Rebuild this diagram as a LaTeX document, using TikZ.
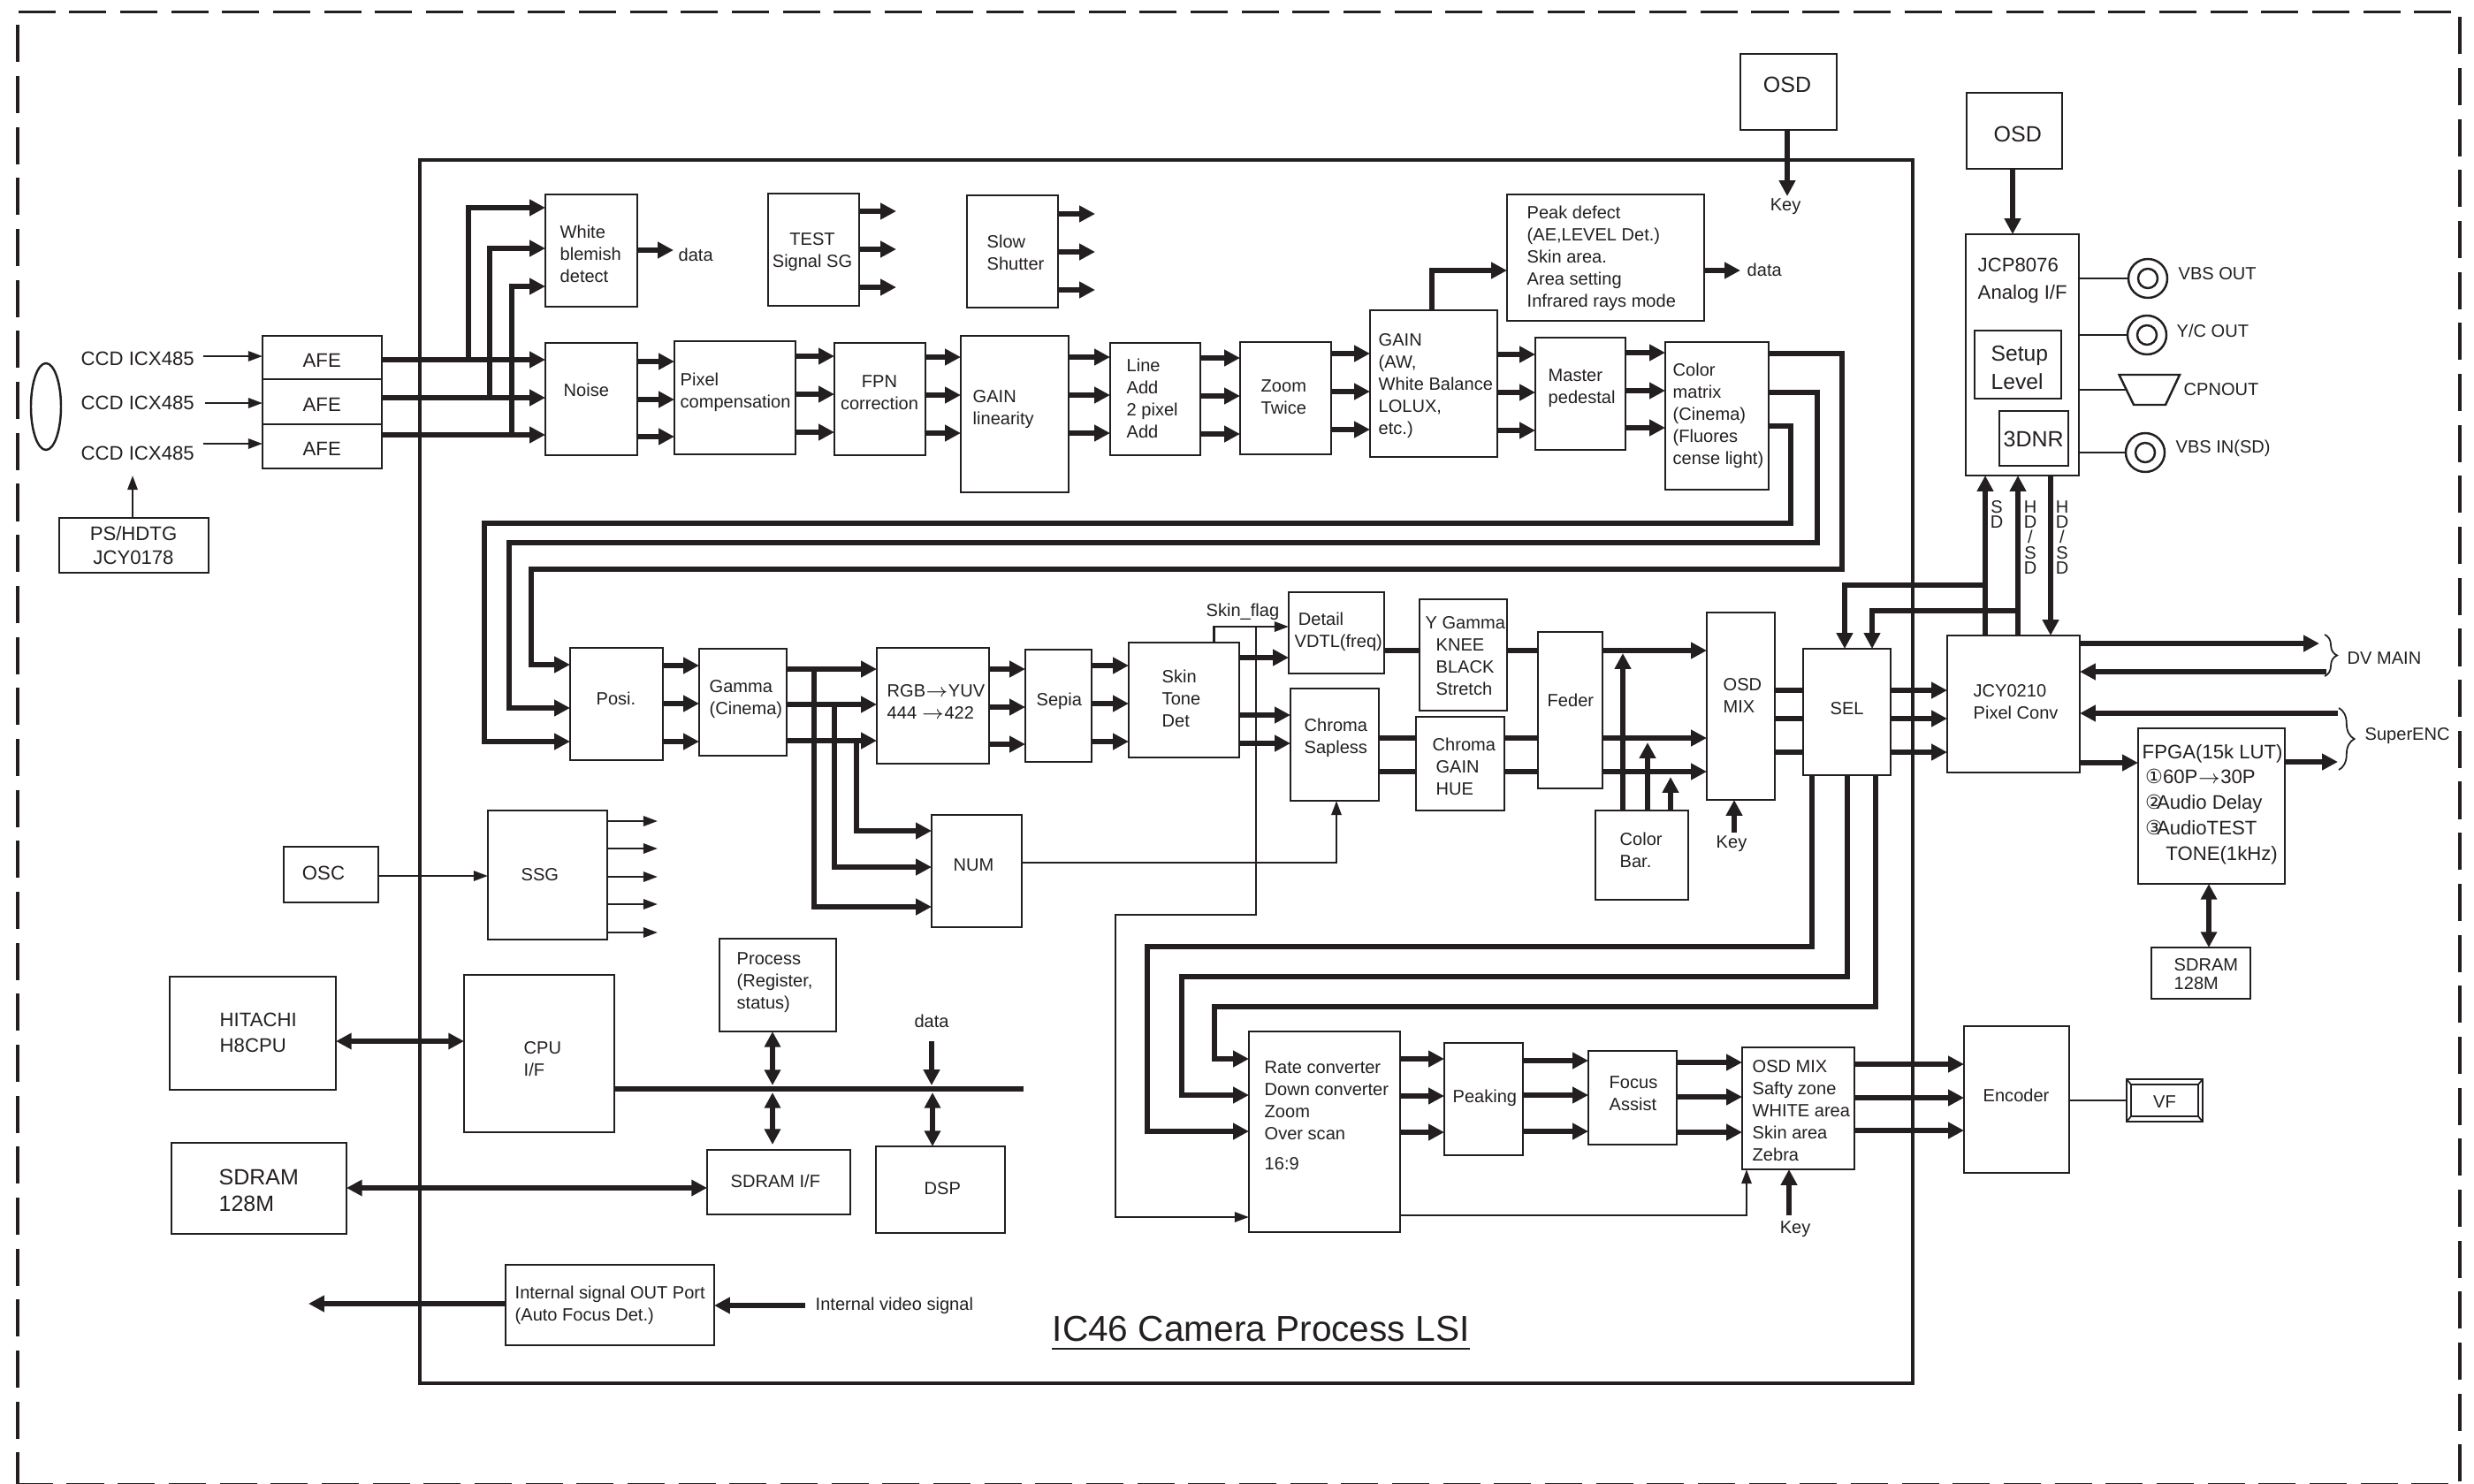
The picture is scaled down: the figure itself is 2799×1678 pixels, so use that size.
\documentclass[tikz,border=0pt]{standalone}
\usepackage{fontspec}
\setmainfont{Liberation Sans}
\newfontfamily\circfont{DejaVu Sans}
\usetikzlibrary{shapes.geometric,arrows.meta,decorations.pathreplacing,calc}
\definecolor{ink}{HTML}{231F20}

\begin{document}
\begin{tikzpicture}[
    x=0.01cm, y=-0.01cm, color=ink,
    wh/.style 2 args={minimum width=#1*0.01cm, minimum height=#2*0.01cm},
    box/.style={rectangle, draw, line width=0.7pt, anchor=north west, inner sep=0pt, outer sep=0pt},
    frame/.style={rectangle, draw, line width=1.1pt, dash pattern=on 11.95pt off 4.45pt, dash phase=0.6pt, anchor=north west, inner sep=0pt},
    lbl/.style={anchor=west, align=left, inner sep=0pt, font=\fontsize{5.7}{7.1}\selectfont},
    lblm/.style={lbl, font=\fontsize{6.3}{7.7}\selectfont},
    lblb/.style={lbl, font=\fontsize{7.1}{8.6}\selectfont},
    stack/.style={lbl, anchor=center, align=center, font=\fontsize{5.7}{4.95}\selectfont},
    bus/.style={-{Triangle[length=5.1pt,width=5.1pt]}, line width=1.75pt},
    dbus/.style={{Triangle[length=5pt,width=5pt]}-{Triangle[length=5pt,width=5pt]}, line width=1.5pt},
    trunk/.style={line width=1.75pt},
    wire/.style={-{Triangle[length=4.6pt,width=3.2pt]}, line width=0.7pt},
    jack/.style={circle, draw, line width=0.7pt, inner sep=0pt, minimum size=#1*0.01cm},
]
\useasboundingbox (0,0) rectangle (2799,1678);

% ---------- frames ----------
\node[frame, wh={2763}{1666}] (camera) at (18,11.5) {};
\node[box, line width=1pt, wh={1689}{1384}] (lsi) at (475,181) {};
\node[lbl, font=\fontsize{11.55}{13}\selectfont] (lsiT) at (1190,1503) {IC46 Camera Process LSI};
\draw[line width=0.8pt] (lsiT.west|-0,1526) -- (1663,1526);

% ---------- sensors ----------
\node[ellipse, draw, line width=0.7pt, minimum width=0.34cm, minimum height=0.98cm, inner sep=0pt] (lens) at (52,460) {};
\node[lblm] (ccdA) at (91,406) {CCD ICX485};
\node[lblm] (ccdB) at (91,456) {CCD ICX485};
\node[lblm] (ccdC) at (91,513) {CCD ICX485};
\node[box, wh={135}{49}] (afeA) at (297,380) {};
\node[box, wh={135}{51}] (afeB) at (297,429) {};
\node[box, wh={135}{50}] (afeC) at (297,480) {};
\node[lblm] (afeAT) at (342,408) {AFE};
\node[lblm] (afeBT) at (342,458) {AFE};
\node[lblm] (afeCT) at (342,508) {AFE};
\draw[wire] (230,403) -- (afeA.west|-0,403);
\draw[wire] (232,456) -- (afeB.west|-0,456);
\draw[wire] (230,502) -- (afeC.west|-0,502);
\node[box, wh={169}{62}] (ps) at (67,586) {};
\node[lblm, anchor=center, align=center] (psT) at (151,617) {PS/HDTG\\JCY0178};
\coordinate (ccdIn) at (150,538);
\draw[wire] (ps.north-|ccdIn) -- (ccdIn);

% ---------- first row ----------
\node[box, wh={104}{127}] (wbd) at (617,220) {};
\node[lbl] (wbdT) at (633,287) {White\\blemish\\detect};
\node[box, wh={103}{127}] (testsg) at (869,219) {};
\node[lbl, anchor=center, align=center] (testsgT) at (919,285) {TEST\\Signal SG};
\node[box, wh={103}{127}] (slow) at (1094,221) {};
\node[lbl] (slowT) at (1116,286) {Slow\\Shutter};
\node[box, wh={104}{127}] (noise) at (617,388) {};
\node[lbl] (noiseT) at (637,441) {Noise};
\node[box, wh={137}{128}] (pixc) at (763,386) {};
\node[lbl] (pixcT) at (769,444) {Pixel\\compensation};
\node[box, wh={103}{127}] (fpn) at (944,388) {};
\node[lbl, anchor=center, align=center] (fpnT) at (995,444) {FPN\\correction};
\node[box, wh={122}{177}] (glin) at (1087,380) {};
\node[lbl] (glinT) at (1100,463) {GAIN\\linearity};
\node[box, wh={102}{127}] (addl) at (1256,388) {};
\node[lbl] (addlT) at (1274,451) {Line\\Add\\2 pixel\\Add};
\node[box, wh={103}{127}] (zoomx) at (1403,387) {};
\node[lbl] (zoomxT) at (1426,449) {Zoom\\Twice};
\node[box, wh={144}{166}] (gain) at (1550,351) {};
\node[lbl] (gainT) at (1559,437) {GAIN\\(AW,\\White Balance\\LOLUX,\\etc.)};
\node[box, wh={102}{127}] (mped) at (1737,382) {};
\node[lbl] (mpedT) at (1751,439) {Master\\pedestal};
\node[box, wh={117}{167}] (cmx) at (1884,387) {};
\node[lbl] (cmxT) at (1892,470) {Color\\matrix\\(Cinema)\\(Fluores\\cense light)};
\node[box, wh={223}{143}] (peak) at (1705,220) {};
\node[lbl] (peakT) at (1727,292) {Peak defect\\(AE,LEVEL Det.)\\Skin area.\\Area setting\\Infrared rays mode};

\draw[bus] (afeA.east|-0,407) -- (noise.west|-0,407);
\draw[bus] (afeB.east|-0,450) -- (noise.west|-0,450);
\draw[bus] (afeC.east|-0,492) -- (noise.west|-0,492);
\draw[bus] (530,407) |- (wbd.west|-0,235);
\draw[bus] (554,450) |- (wbd.west|-0,281);
\draw[bus] (579,492) |- (wbd.west|-0,324);
\coordinate (wbdOut) at (762,283);
\node[lbl] (wbdData) at (767,288) {data};
\draw[bus] (wbd.east|-wbdOut) -- (wbdOut);
\foreach \y in {239,282,325} { \draw[bus] (testsg.east|-0,\y) -- ++(42,0); }
\foreach \y in {242,285,328} { \draw[bus] (slow.east|-0,\y) -- ++(42,0); }
\foreach \y in {409,452,494} { \draw[bus] (noise.east|-0,\y) -- (pixc.west|-0,\y); }
\foreach \y in {403,446,489} { \draw[bus] (pixc.east|-0,\y) -- (fpn.west|-0,\y); }
\foreach \y in {404,447,490} { \draw[bus] (fpn.east|-0,\y) -- (glin.west|-0,\y); }
\foreach \y in {404,447,490} { \draw[bus] (glin.east|-0,\y) -- (addl.west|-0,\y); }
\foreach \y in {405,448,491} { \draw[bus] (addl.east|-0,\y) -- (zoomx.west|-0,\y); }
\foreach \y in {400,443,486} { \draw[bus] (zoomx.east|-0,\y) -- (gain.west|-0,\y); }
\foreach \y in {401,444,487} { \draw[bus] (gain.east|-0,\y) -- (mped.west|-0,\y); }
\foreach \y in {399,442,484} { \draw[bus] (mped.east|-0,\y) -- (cmx.west|-0,\y); }
\draw[bus] (gain.north-|1620,0) |- (peak.west|-0,306);
\coordinate (peakOut) at (1969,306);
\node[lbl] (peakData) at (1976,305) {data};
\draw[bus] (peak.east|-peakOut) -- (peakOut);

% ---------- second row ----------
\node[box, wh={105}{127}] (posi) at (645,733) {};
\node[lbl] (posiT) at (674,790) {Posi.};
\node[box, wh={99}{121}] (gamma) at (791,734) {};
\node[lbl] (gammaT) at (802,791) {Gamma\\(Cinema)};
\node[box, wh={127}{131}] (rgb) at (992,733) {};
\node[lbl] (rgbT) at (1003,794) {RGB$\rightarrow$YUV\\444 $\rightarrow$422};
\node[box, wh={75}{127}] (sepia) at (1160,735) {};
\node[lbl] (sepiaT) at (1172,793) {Sepia};
\node[box, wh={125}{130}] (skin) at (1277,727) {};
\node[lbl] (skinT) at (1314,790) {Skin\\Tone\\Det};
\node[box, wh={108}{92}] (dtl) at (1458,670) {};
\node[lbl] (dtlT) at (1464,715) {\hspace*{1.2pt}Detail\\VDTL(freq)};
\node[box, wh={100}{127}] (chs) at (1460,779) {};
\node[lbl] (chsT) at (1475,835) {Chroma\\Sapless};
\node[box, wh={99}{126}] (ygam) at (1606,678) {};
\node[lbl] (ygamT) at (1612,742) {Y Gamma\\\hspace*{3.4pt}KNEE\\\hspace*{3.4pt}BLACK\\\hspace*{3.4pt}Stretch};
\node[box, wh={100}{106}] (chg) at (1602,811) {};
\node[lbl] (chgT) at (1620,867) {Chroma\\\hspace*{1.1pt}GAIN\\\hspace*{1.1pt}HUE};
\node[box, wh={73}{177}] (feder) at (1740,715) {};
\node[lbl] (federT) at (1750,792) {Feder};
\node[box, wh={77}{212}] (omix) at (1931,693) {};
\node[lbl] (omixT) at (1949,787) {OSD\\MIX};
\node[box, wh={105}{101}] (cbar) at (1805,917) {};
\node[lbl] (cbarT) at (1832,962) {Color\\Bar.};
\node[box, wh={99}{143}] (sel) at (2040,734) {};
\node[lbl] (selT) at (2070,802) {SEL};

% three lines run down from the colour matrix
\draw[bus] (cmx.east|-0,400) -| (2084,644) -| (601,752) -- (posi.west|-0,752);
\draw[bus] (cmx.east|-0,444) -| (2056,614) -| (576,801) -- (posi.west|-0,801);
\draw[bus] (cmx.east|-0,482) -| (2026,592) -| (548,839) -- (posi.west|-0,839);
\foreach \y in {753,796,839} { \draw[bus] (posi.east|-0,\y) -- (gamma.west|-0,\y); }
\foreach \y in {757,797,838} { \draw[bus] (gamma.east|-0,\y) -- (rgb.west|-0,\y); }
\foreach \y in {757,800,842} { \draw[bus] (rgb.east|-0,\y) -- (sepia.west|-0,\y); }
\foreach \y in {753,796,839} { \draw[bus] (sepia.east|-0,\y) -- (skin.west|-0,\y); }
\draw[bus] (skin.east|-0,744) -- (dtl.west|-0,744);
\draw[bus] (skin.east|-0,809) -- (chs.west|-0,809);
\draw[bus] (skin.east|-0,841) -- (chs.west|-0,841);
\draw[trunk] (dtl.east|-0,736) -- (ygam.west|-0,736);
\draw[trunk] (ygam.east|-0,736) -- (feder.west|-0,736);
\draw[bus] (feder.east|-0,736) -- (omix.west|-0,736);
\foreach \y in {835,873} {
  \draw[trunk] (chs.east|-0,\y) -- (chg.west|-0,\y);
  \draw[trunk] (chg.east|-0,\y) -- (feder.west|-0,\y);
  \draw[bus] (feder.east|-0,\y) -- (omix.west|-0,\y);
}
\foreach \x/\y in {1836/739,1864/840,1890/879} { \draw[bus, line width=1.6pt] (cbar.north-|\x,0) -- (\x,\y); }
\foreach \y in {781,813,851} { \draw[trunk] (omix.east|-0,\y) -- (sel.west|-0,\y); }
\coordinate (keyB) at (1962,942);
\node[lbl, anchor=center] (keyBT) at (1959,955) {Key};
\draw[bus] (keyB) -- (omix.south-|keyB);

% ---------- num and skin flag ----------
\node[box, wh={102}{127}] (num) at (1054,922) {};
\node[lbl] (numT) at (1078,979) {NUM};
\draw[bus] (921,757) |- (num.west|-0,1026);
\draw[bus] (944,797) |- (num.west|-0,981);
\draw[bus] (969,838) |- (num.west|-0,940);
\draw[wire] (num.east|-0,976) -| (chs.south-|1512,0);
\node[lbl] (skinF) at (1364,692) {Skin\_flag};
\draw[wire] (skin.north-|1373.5,0) |- (dtl.west|-0,709);

% ---------- ssg and bus ----------
\node[box, wh={135}{146}] (ssg) at (552,917) {};
\node[lbl] (ssgT) at (589,990) {SSG};
\foreach \y in {929,960,992,1023,1055} { \draw[wire] (ssg.east|-0,\y) -- ++(57,0); }
\node[box, wh={107}{63}] (osc) at (321,958) {};
\node[lblm, anchor=center] (oscT) at (366,988) {OSC};
\draw[wire] (osc.east|-0,991) -- (ssg.west|-0,991);
\node[box, wh={188}{128}] (hit) at (192,1105) {};
\node[lblm, font=\fontsize{6.3}{8.2}\selectfont] (hitT) at (248,1168) {HITACHI\\H8CPU};
\node[box, wh={170}{178}] (cpu) at (525,1103) {};
\node[lbl] (cpuT) at (592,1198) {CPU\\I/F};
\node[box, wh={132}{105}] (proc) at (814,1062) {};
\node[lbl] (procT) at (833,1112) {Process\\(Register,\\status)};
\node[box, wh={162}{73}] (sdif) at (800,1301) {};
\node[lbl] (sdifT) at (826,1336) {SDRAM I/F};
\node[box, wh={146}{98}] (dsp) at (991,1297) {};
\node[lbl] (dspT) at (1045,1345) {DSP};
\node[box, wh={198}{103}] (sdram) at (194,1293) {};
\node[lblb] (sdramT) at (247,1347) {SDRAM\\128M};
\coordinate (busEnd) at (1158,1232);
\coordinate (busTap) at (874,1232);
\coordinate (busTapB) at (1054,1232);
\draw[trunk] (cpu.east|-busEnd) -- (busEnd);
\draw[dbus] (hit.east|-0,1178) -- (cpu.west|-0,1178);
\draw[dbus] (proc.south-|busTap) -- ($(busTap)+(0,-4)$);
\draw[dbus] ($(busTap)+(0,4)$) -- (874,1295);
\coordinate (dataIn) at (1054,1178);
\node[lbl, anchor=center] (dataT) at (1054,1155) {data};
\draw[bus] (dataIn) -- ($(busTapB)+(0,-4)$);
\draw[dbus] ($(busTapB)+(1,4)$) -- (dsp.north-|1055,0);
\draw[dbus] (sdram.east|-0,1344) -- (sdif.west|-0,1344);
\node[box, wh={236}{91}] (intp) at (572,1431) {};
\node[lbl] (intpT) at (582,1477) {Internal signal OUT Port\\(Auto Focus Det.)};
\coordinate (intOut) at (349,1475);
\coordinate (intIn) at (911,1477);
\node[lbl] (intInT) at (922,1477) {Internal video signal};
\draw[bus] (intp.west|-intOut) -- (intOut);
\draw[bus] (intIn) -- (intp.east|-intIn);

% ---------- third row ----------
\node[box, wh={171}{227}] (rate) at (1413,1167) {};
\node[lbl] (rateT) at (1430,1262) {Rate converter\\Down converter\\Zoom\\Over scan\\[2.5pt]16:9};
\node[box, wh={89}{127}] (peakg) at (1634,1180) {};
\node[lbl] (peakgT) at (1643,1242) {Peaking};
\node[box, wh={100}{106}] (focus) at (1797,1189) {};
\node[lbl] (focusT) at (1820,1237) {Focus\\Assist};
\node[box, wh={127}{138}] (omixb) at (1971,1185) {};
\node[lbl] (omixbT) at (1982,1257) {OSD MIX\\Safty zone\\WHITE area\\Skin area\\Zebra};
\node[box, wh={119}{166}] (enc) at (2222,1161) {};
\node[lbl] (encT) at (2243,1239) {Encoder};
\node[box, wh={86}{48}] (vf) at (2406,1221) {};
\node[box, wh={76}{36}] (vfI) at (2411,1227) {};
\node[lbl, anchor=center] (vfT) at (2449,1247) {VF};
\foreach \a in {north west,north east,south west,south east} { \draw[line width=0.5pt] (vf.\a) -- (vfI.\a); }
\draw[line width=0.7pt] (enc.east|-vf.west) -- (vf.west);

\draw[bus] (sel.south-|2050,0) |- (1298,1071) |- (rate.west|-0,1280);
\draw[bus] (sel.south-|2090,0) |- (1337,1105) |- (rate.west|-0,1239);
\draw[bus] (sel.south-|2122,0) |- (1374,1139) |- (rate.west|-0,1198);
\draw[wire] (1421,709) |- (1262,1035) |- (rate.west|-0,1377);
\foreach \y in {1198,1240,1281} { \draw[bus] (rate.east|-0,\y) -- (peakg.west|-0,\y); }
\foreach \y in {1200,1239,1280} { \draw[bus] (peakg.east|-0,\y) -- (focus.west|-0,\y); }
\foreach \y in {1202,1241,1281} { \draw[bus] (focus.east|-0,\y) -- (omixb.west|-0,\y); }
\foreach \y in {1204,1242,1279} { \draw[bus] (omixb.east|-0,\y) -- (enc.west|-0,\y); }
\draw[wire] (rate.east|-0,1375) -| (omixb.south-|1976,0);
\coordinate (keyC) at (2024,1375);
\node[lbl, anchor=center] (keyCT) at (2031,1391) {Key};
\draw[bus] (keyC) -- (omixb.south-|keyC);

% ---------- right side ----------
\node[box, wh={109}{86}] (osdA) at (1969,61) {};
\node[lblb, anchor=center] (osdAT) at (2022,96) {OSD};
\coordinate (keyA) at (2022,222);
\node[lbl, anchor=center] (keyAT) at (2020,234) {Key};
\draw[bus] (osdA.south-|keyA) -- (keyA);
\node[box, wh={108}{86}] (osdB) at (2225,105) {};
\node[lblb] (osdBT) at (2255,152) {OSD};
\node[box, wh={128}{273}] (anl) at (2224,265) {};
\node[lblm, font=\fontsize{6.3}{8.8}\selectfont] (anlT) at (2237,318) {JCP8076\\Analog I/F};
\node[box, wh={98}{77}] (setup) at (2234,374) {};
\node[lblb, font=\fontsize{7}{9.1}\selectfont] (setupT) at (2252,416) {Setup\\Level};
\node[box, wh={78}{62}] (dnr) at (2262,465) {};
\node[lblb] (dnrT) at (2266,497) {3DNR};
\draw[bus] (osdB.south-|2277,0) -- (anl.north-|2277,0);

\node[jack=44] (vbsO) at (2430,315) {};
\node[jack=22] (vbsOi) at (2430,315) {};
\node[jack=44] (ycO) at (2429,379) {};
\node[jack=22] (ycOi) at (2429,379) {};
\node[jack=44] (vbsI) at (2427,512) {};
\node[jack=22] (vbsIi) at (2427,512) {};
\coordinate (cpn) at (2405,441);
\draw[line width=0.7pt] (2397.5,424) -- (2466,424) -- (2450,458) -- (2414,458) -- cycle;
\foreach \p in {vbsO,ycO,vbsI,cpn} { \draw[line width=0.7pt] (anl.east|-\p) -- (\p.west); }
\node[lbl] (vbsOT) at (2464,310) {VBS OUT};
\node[lbl] (ycOT) at (2462,374) {Y/C OUT};
\node[lbl] (cpnT) at (2470,441) {CPNOUT};
\node[lbl] (vbsIT) at (2461,507) {VBS IN(SD)};

\node[box, wh={150}{155}] (jcy) at (2203,719) {};
\node[lbl] (jcyT) at (2232,794) {JCY0210\\Pixel Conv};
\foreach \y in {781,813,851} { \draw[bus] (sel.east|-0,\y) -- (jcy.west|-0,\y); }
\draw[bus] (jcy.north-|2246,0) -- (anl.south-|2246,0);
\draw[bus] (jcy.north-|2283,0) -- (anl.south-|2283,0);
\draw[bus] (anl.south-|2320,0) -- (jcy.north-|2320,0);
\draw[bus] (2246,662) -| (sel.north-|2087,0);
\draw[bus] (2283,691) -| (sel.north-|2118,0);
\node[stack] (sdT) at (2259,582) {S\\D};
\node[stack] (hsdA) at (2297,608) {H\\D\\/\\S\\D};
\node[stack] (hsdB) at (2333,608) {H\\D\\/\\S\\D};

\node[box, wh={166}{176}] (fpga) at (2419,824) {};
\node[lblm, font=\fontsize{6.3}{8.2}\selectfont] (fpgaT) at (2423,910)
  {FPGA(15k LUT)\\
   \hspace*{1pt}{\circfont ①}60P$\rightarrow$30P\\
   \hspace*{1pt}{\circfont ②}\hspace*{-2pt}Audio Delay\\
   \hspace*{1pt}{\circfont ③}\hspace*{-2pt}AudioTEST\\
   \hspace*{7.6pt}TONE(1kHz)};
\node[box, wh={112}{58}] (sdr) at (2434,1072) {};
\node[lbl, font=\fontsize{5.7}{6}\selectfont] (sdrT) at (2459,1102) {SDRAM\\128M};
\draw[dbus] (fpga.south-|2499,0) -- (sdr.north-|2499,0);

\coordinate (dvOut) at (2624,728);
\coordinate (dvIn) at (2632,760);
\coordinate (encIn) at (2645,807);
\coordinate (encOut) at (2645,862);
\draw[bus] (jcy.east|-dvOut) -- (dvOut);
\draw[bus] (dvIn) -- (jcy.east|-dvIn);
\draw[bus] (encIn) -- (jcy.east|-encIn);
\draw[bus] (jcy.east|-0,863) -- (fpga.west|-0,863);
\draw[bus] (fpga.east|-encOut) -- (encOut);
\coordinate (dvBa) at (2630,718);
\coordinate (dvBb) at (2630,765);
\coordinate (encBa) at (2646,801);
\coordinate (encBb) at (2646,871);
\draw[line width=0.5pt, decorate, decoration={brace, amplitude=4pt}] (dvBa) -- (dvBb);
\draw[line width=0.5pt, decorate, decoration={brace, amplitude=5pt}] (encBa) -- (encBb);
\node[lbl] (dvT) at (2655,745) {DV MAIN};
\node[lbl] (supT) at (2675,833) {SuperENC};

\end{tikzpicture}
\end{document}
